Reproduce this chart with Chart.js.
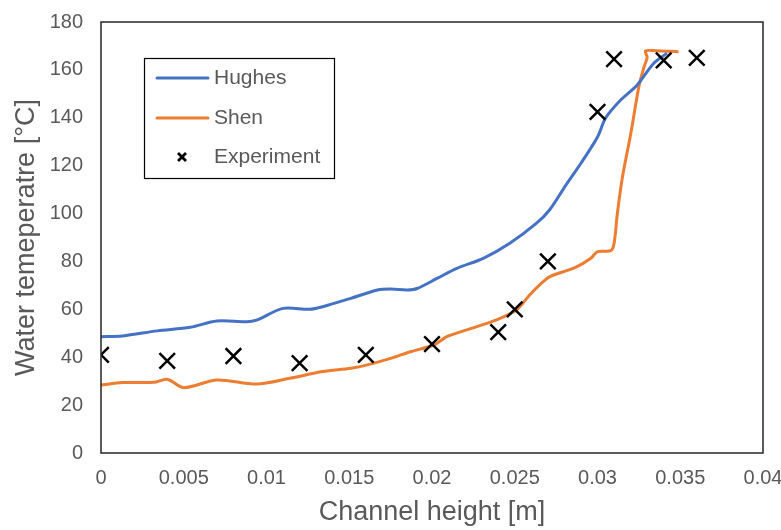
<!DOCTYPE html>
<html>
<head>
<meta charset="utf-8">
<script src="https://cdn.jsdelivr.net/npm/chart.js@4"></script>
<style>
  html, body { margin: 0; padding: 0; background: #fff; }
  #wrap { width: 781px; height: 530px; }
</style>
</head>
<body>
<div id="wrap"><canvas id="chart" width="781" height="530"></canvas></div>
<script>
// Values
const hughesX = [0, 0.0013, 0.0034, 0.0054, 0.007, 0.0088, 0.0094, 0.011, 0.0126, 0.0134, 0.0151, 0.0167, 0.0175, 0.0185, 0.0191, 0.0203, 0.0215, 0.0231, 0.0247, 0.0263, 0.0271, 0.0281, 0.029, 0.03, 0.0305, 0.0314, 0.0324, 0.0334, 0.0342];
const hughesY = [48.6, 48.9, 51, 52.5, 55.1, 54.8, 55.5, 60.4, 60, 61.1, 64.6, 68.1, 68.5, 68.1, 68.7, 72.9, 77.1, 81.3, 87.6, 95.9, 101.5, 112, 121, 132, 140, 147.4, 153.7, 162.8, 167];

const shenX = [0, 0.0013, 0.0032, 0.004, 0.005, 0.007, 0.0094, 0.0114, 0.0134, 0.0151, 0.0161, 0.0175, 0.0187, 0.0201, 0.0209, 0.0221, 0.0239, 0.0251, 0.0259, 0.0266, 0.0271, 0.0287, 0.0296, 0.03, 0.0308, 0.031, 0.0312, 0.0315, 0.032, 0.0325, 0.0328, 0.033, 0.0329, 0.0335, 0.0349];
const shenY = [28.4, 29.4, 29.5, 30.8, 27.3, 30.5, 28.8, 31.2, 34, 35.4, 36.8, 39.5, 42.3, 45.1, 48.6, 51.4, 55.6, 59.7, 66, 70.8, 73.6, 77.6, 81.3, 84.1, 84.5, 87.5, 100, 115, 133, 153, 161, 165.2, 167.9, 168, 167.6];

const expX = [0, 0.004, 0.008, 0.012, 0.016, 0.02, 0.024, 0.025, 0.027, 0.03, 0.031, 0.034, 0.036];
const expY = [41, 38.5, 40.5, 37.5, 41, 45.5, 50.5, 60, 80, 142.5, 164.5, 164, 165];

const xTicks = [0, 0.005, 0.01, 0.015, 0.02, 0.025, 0.03, 0.035, 0.04];
const yTicks = [0, 20, 40, 60, 80, 100, 120, 140, 160, 180];

const seriesNames = ['Hughes', 'Shen', 'Experiment'];

function toPoints(xs, ys) {
    return xs.map((x, i) => ({ x: x, y: ys[i] }));
}

const textGray = '#595959';
const fontFamily = 'Arial, "Liberation Sans", sans-serif';

// box around the plot area plus the legend inside it
const framePlugin = {
    id: 'frame',
    afterDraw(chart) {
        const ctx = chart.ctx;
        const a = chart.chartArea;
        ctx.save();
        ctx.strokeStyle = '#262626';
        ctx.lineWidth = 1.5;
        ctx.strokeRect(a.left, a.top, a.right - a.left, a.bottom - a.top);

        // legend
        ctx.strokeStyle = '#000';
        ctx.lineWidth = 1.2;
        ctx.fillStyle = '#fff';
        ctx.fillRect(144, 58, 190, 120);
        ctx.strokeRect(144.5, 58.5, 190, 120);

        ctx.lineCap = 'round';
        ctx.lineWidth = 3;
        ctx.strokeStyle = '#4472C4';
        ctx.beginPath(); ctx.moveTo(157, 78); ctx.lineTo(208, 78); ctx.stroke();
        ctx.strokeStyle = '#ED7D31';
        ctx.beginPath(); ctx.moveTo(157, 118); ctx.lineTo(208, 118); ctx.stroke();

        ctx.lineCap = 'butt';
        ctx.lineWidth = 2.8;
        ctx.strokeStyle = '#000';
        ctx.beginPath();
        ctx.moveTo(178, 153); ctx.lineTo(186, 161);
        ctx.moveTo(186, 153); ctx.lineTo(178, 161);
        ctx.stroke();

        ctx.fillStyle = textGray;
        ctx.font = '21px ' + fontFamily;
        ctx.textBaseline = 'middle';
        ctx.textAlign = 'left';
        ctx.fillText(seriesNames[0], 214, 78);
        ctx.fillText(seriesNames[1], 214, 118);
        ctx.fillText(seriesNames[2], 214, 157);
        ctx.restore();
    }
};

new Chart(document.getElementById('chart'), {
    type: 'scatter',
    data: {
        datasets: [
            {
                label: seriesNames[2],
                data: toPoints(expX, expY),
                showLine: false,
                pointStyle: 'crossRot',
                pointRadius: 11,
                pointHoverRadius: 11,
                borderColor: '#000',
                borderWidth: 2.5,
                order: 0
            },
            {
                label: seriesNames[0],
                data: toPoints(hughesX, hughesY),
                showLine: true,
                borderColor: '#4472C4',
                borderWidth: 3,
                pointRadius: 0,
                tension: 0.3,
                order: 1
            },
            {
                label: seriesNames[1],
                data: toPoints(shenX, shenY),
                showLine: true,
                borderColor: '#ED7D31',
                borderWidth: 3,
                pointRadius: 0,
                tension: 0.3,
                order: 2
            }
        ]
    },
    options: {
        responsive: false,
        animation: false,
        devicePixelRatio: 1,
        layout: { padding: { top: 22, right: 18, left: 0, bottom: 0 } },
        plugins: {
            legend: { display: false },
            tooltip: { enabled: false }
        },
        scales: {
            x: {
                type: 'linear',
                min: 0,
                max: 0.04,
                grid: { display: false, drawTicks: false },
                border: { display: false },
                afterBuildTicks: axis => { axis.ticks = xTicks.map(v => ({ value: v })); },
                afterFit: axis => { axis.height = 77; axis.paddingLeft = 0; axis.paddingRight = 0; },
                ticks: {
                    color: textGray,
                    font: { family: fontFamily, size: 20 },
                    padding: 13,
                    maxRotation: 0,
                    autoSkip: false,
                    callback: v => String(v)
                },
                title: {
                    display: true,
                    text: 'Channel height [m]',
                    color: textGray,
                    font: { family: fontFamily, size: 27 },
                    padding: { top: 0, bottom: 1 }
                }
            },
            y: {
                type: 'linear',
                min: 0,
                max: 180,
                grid: { display: false, drawTicks: false },
                border: { display: false },
                afterBuildTicks: axis => { axis.ticks = yTicks.map(v => ({ value: v })); },
                afterFit: axis => { axis.width = 101; axis.paddingTop = 0; axis.paddingBottom = 0; },
                ticks: {
                    color: textGray,
                    font: { family: fontFamily, size: 20 },
                    padding: 18
                },
                title: {
                    display: true,
                    text: 'Water temeperatre [°C]',
                    color: textGray,
                    font: { family: fontFamily, size: 27 },
                    padding: { top: 10, bottom: 0 }
                }
            }
        }
    },
    plugins: [framePlugin]
});
</script>
</body>
</html>
